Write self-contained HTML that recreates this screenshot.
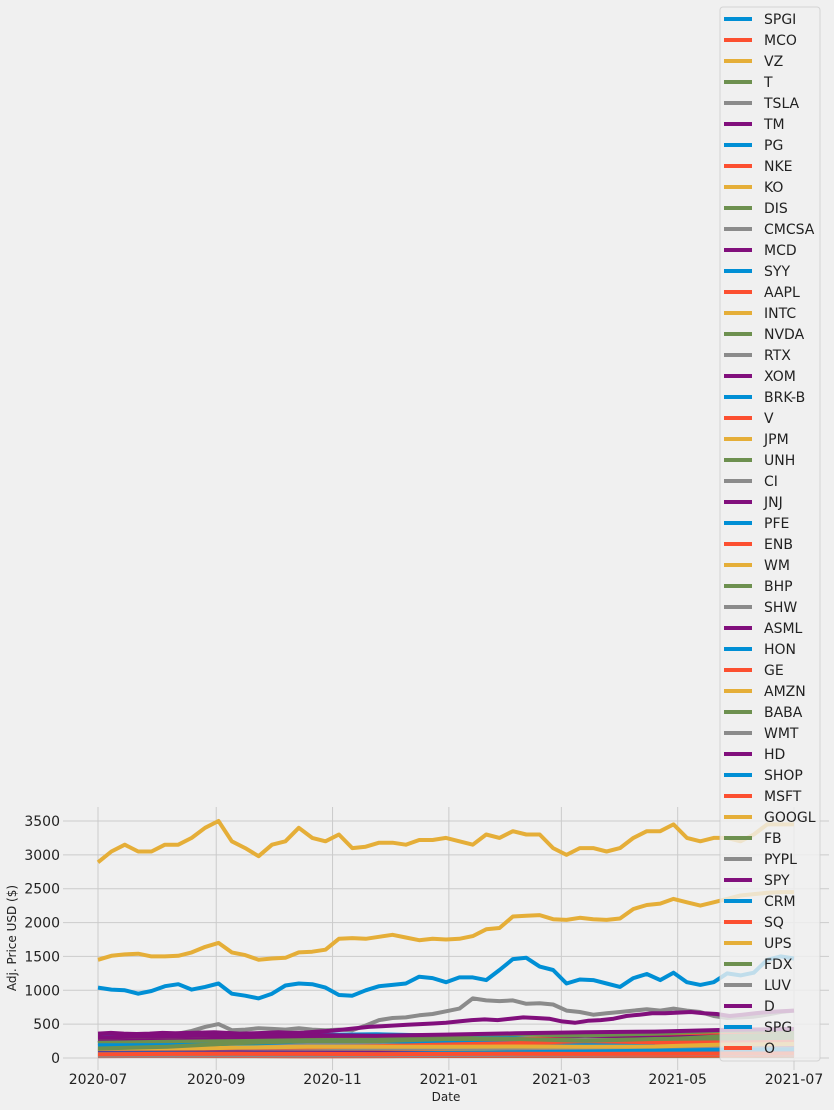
<!DOCTYPE html>
<html><head><meta charset="utf-8"><style>
html,body{margin:0;padding:0;background:#f0f0f0;}
svg{display:block;font-family:"DejaVu Sans","Liberation Sans",sans-serif;}
</style></head><body>
<svg id="chart" width="834" height="1110" viewBox="0 0 834 1110" xmlns="http://www.w3.org/2000/svg">
<rect x="0" y="0" width="834" height="1110" fill="#f0f0f0"/>
<g id="grid"></g>
<g id="lines"></g>
<g id="yticks"></g>
<g id="xticks"></g>
<text x="446" y="1101" font-size="12" text-anchor="middle" fill="#222">Date</text>
<text transform="translate(16,938) rotate(-90)" font-size="12" text-anchor="middle" fill="#222">Adj. Price USD ($)</text>
<g id="legend"></g>
</svg>
<script>
const tickers = ["SPGI","MCO","VZ","T","TSLA","TM","PG","NKE","KO","DIS","CMCSA","MCD","SYY","AAPL","INTC","NVDA","RTX","XOM","BRK-B","V","JPM","UNH","CI","JNJ","PFE","ENB","WM","BHP","SHW","ASML","HON","GE","AMZN","BABA","WMT","HD","SHOP","MSFT","GOOGL","FB","PYPL","SPY","CRM","SQ","UPS","FDX","LUV","D","SPG","O"];
const yTicks = [0,500,1000,1500,2000,2500,3000,3500];
const xTickLabels = ["2020-07","2020-09","2020-11","2021-01","2021-03","2021-05","2021-07"];
const xTickDays = [0,62,123,184,243,304,365];
const amzn = [2890,3050,3150,3050,3050,3150,3150,3250,3400,3500,3200,3100,2980,3150,3200,3400,3250,3200,3300,3100,3120,3180,3180,3150,3220,3220,3250,3200,3150,3300,3250,3350,3300,3300,3100,3000,3100,3100,3050,3100,3250,3350,3350,3450,3250,3200,3250,3250,3200,3300,3450,3450,3450];
const googl = [1450,1510,1530,1540,1500,1500,1510,1560,1640,1700,1560,1520,1450,1470,1480,1560,1570,1600,1760,1770,1760,1790,1820,1780,1740,1760,1750,1760,1800,1900,1920,2090,2100,2110,2050,2040,2070,2050,2040,2060,2200,2260,2280,2350,2300,2250,2300,2350,2400,2420,2440,2450,2450];
const shop = [1040,1010,1000,950,990,1060,1090,1010,1050,1100,950,920,880,950,1070,1100,1090,1040,930,920,1000,1060,1080,1100,1200,1180,1120,1190,1190,1150,1300,1460,1480,1350,1300,1100,1160,1150,1100,1050,1180,1240,1150,1260,1120,1080,1120,1250,1220,1260,1450,1500,1470];
const tsla = [220,280,300,320,300,330,360,400,460,500,410,420,440,430,420,440,420,410,420,410,480,560,590,600,630,650,690,730,880,850,840,850,800,810,790,700,680,640,660,680,700,720,700,730,700,680,620,590,600,610,640,680,700];
const asml = [360,370,360,355,360,370,365,370,375,380,370,360,365,370,380,370,375,390,400,420,440,460,470,480,490,500,510,520,540,560,570,560,580,600,590,580,540,520,550,560,580,620,640,660,660,670,680,660,650,620,640,660,680,690,700];
const others = {
 "SPGI":[330,350,360,340,350,330,340,360,370,390,380],
 "MCO":[275,290,290,280,290,270,280,300,320,350,360],
 "VZ":[55,57,58,59,60,58,56,55,57,57,57],
 "T":[30,29,28,27,28,29,29,29,30,31,29],
 "TM":[125,130,135,130,135,140,150,150,155,160,175],
 "PG":[120,130,138,140,140,138,135,130,130,134,135],
 "NKE":[98,100,110,115,125,135,140,140,135,130,155],
 "KO":[45,47,48,50,50,52,52,50,50,53,54],
 "DIS":[112,118,125,130,140,170,180,190,190,180,176],
 "CMCSA":[39,42,45,46,48,50,52,54,56,57,57],
 "MCD":[180,200,210,215,220,215,210,215,220,230,232],
 "SYY":[55,55,60,62,65,70,75,80,78,78,78],
 "AAPL":[90,105,130,115,118,120,135,135,120,130,137],
 "INTC":[58,50,52,50,45,48,55,60,62,57,56],
 "NVDA":[95,110,130,130,135,130,135,140,130,150,200],
 "RTX":[60,60,58,55,60,70,72,75,78,85,86],
 "XOM":[42,40,36,33,35,40,45,55,58,60,63],
 "BRK-B":[178,190,210,210,215,225,230,245,255,280,278],
 "V":[193,200,210,205,195,210,210,215,225,235,233],
 "JPM":[90,95,98,95,100,120,130,140,150,160,152],
 "UNH":[290,300,310,305,310,340,350,330,360,400,400],
 "CI":[185,190,200,170,175,200,210,220,240,255,237],
 "JNJ":[138,145,150,148,145,150,158,162,160,165,165],
 "PFE":[31,33,36,35,36,35,36,33,35,38,39],
 "ENB":[28,30,29,27,28,32,33,33,35,37,39],
 "WM":[104,108,112,110,112,115,117,118,128,138,140],
 "BHP":[48,50,52,50,48,55,65,70,72,75,73],
 "SHW":[190,200,220,230,230,240,245,235,260,275,275],
 "HON":[143,150,165,165,165,200,205,200,215,225,219],
 "GE":[55,50,48,45,50,70,85,90,100,105,105],
 "BABA":[215,240,250,280,300,300,260,250,235,230,227],
 "WMT":[118,128,138,140,145,148,145,138,135,140,141],
 "HD":[245,260,280,280,275,275,270,275,300,320,318],
 "MSFT":[203,210,225,210,210,210,220,240,235,250,270],
 "FB":[225,240,250,265,270,275,270,265,270,320,347],
 "PYPL":[175,190,200,195,190,210,230,270,260,260,291],
 "SPY":[305,320,335,340,330,345,365,380,390,415,428],
 "CRM":[187,190,200,250,250,230,245,230,215,230,244],
 "SQ":[105,130,150,155,175,200,220,250,230,230,243],
 "UPS":[110,125,155,165,165,165,170,165,170,200,207],
 "FDX":[140,165,220,250,250,280,280,255,280,290,298],
 "LUV":[34,36,38,37,38,45,47,50,55,60,53],
 "D":[75,80,82,80,80,78,75,72,73,75,73],
 "SPG":[65,68,65,62,60,75,85,95,110,120,130],
 "O":[56,60,62,60,58,60,62,60,64,66,66]
};
const big = {"AMZN":amzn,"GOOGL":googl,"SHOP":shop,"TSLA":tsla,"ASML":asml};
const colors = ["#008fd5","#fc4f30","#e5ae38","#6d904f","#8b8b8b","#810f7c"];

const X0 = 98, X1 = 794, Y0 = 1058, PX_PER = 237/3500;
function xDay(d){ return X0 + d/365*(X1-X0); }
function xIdx(i,n){ return X0 + i/(n-1)*(X1-X0); }
function yVal(v){ return Y0 - v*PX_PER; }
const NS = "http://www.w3.org/2000/svg";
function mk(tag, attrs, parent){ const e=document.createElementNS(NS,tag); for(const k in attrs) e.setAttribute(k,attrs[k]); parent.appendChild(e); return e; }

const grid = document.getElementById('grid');
yTicks.forEach(v=>{
  const l = mk('line',{x1:63,x2:829,y1:yVal(v),y2:yVal(v),stroke:'#cbcbcb','stroke-width':1},grid);
  
  
  const t = mk('text',{x:60,y:yVal(v)+5,'font-size':14,'text-anchor':'end',fill:'#222'},document.getElementById('yticks'));
  
  
  t.textContent = v;
});
xTickDays.forEach((d,i)=>{
  const l = mk('line',{x1:xDay(d),x2:xDay(d),y1:807,y2:1070,stroke:'#cbcbcb','stroke-width':1},grid);
  
  
  const t = mk('text',{x:xDay(d),y:1084,'font-size':14,'text-anchor':'middle',fill:'#222'},document.getElementById('xticks'));
  
  
  t.textContent = xTickLabels[i];
});

const lines = document.getElementById('lines');
tickers.forEach((tk,i)=>{
  const arr = big[tk] || others[tk];
  const pts = arr.map((v,j)=>xIdx(j,arr.length).toFixed(1)+','+yVal(v).toFixed(1)).join(' ');
  const p = mk('polyline',{points:pts,fill:'none',stroke:colors[i%6],'stroke-width':4,'stroke-linejoin':'round'},lines);
  
  
});

const lg = document.getElementById('legend');
const box = mk('rect',{x:720,y:7,width:100,height:1054,rx:3,fill:'rgba(240,240,240,0.8)',stroke:'rgba(204,204,204,0.8)','stroke-width':1},lg);


tickers.forEach((tk,i)=>{
  const y = 19 + i*21;
  const g = mk('g',{},lg);
  
  
  mk('line',{x1:724,x2:752,y1:y,y2:y,stroke:colors[i%6],'stroke-width':4},g);
  const t = mk('text',{x:764,y:y+5,'font-size':14,fill:'#222'},g);
  t.textContent = tk;
});
</script>
</body></html>
